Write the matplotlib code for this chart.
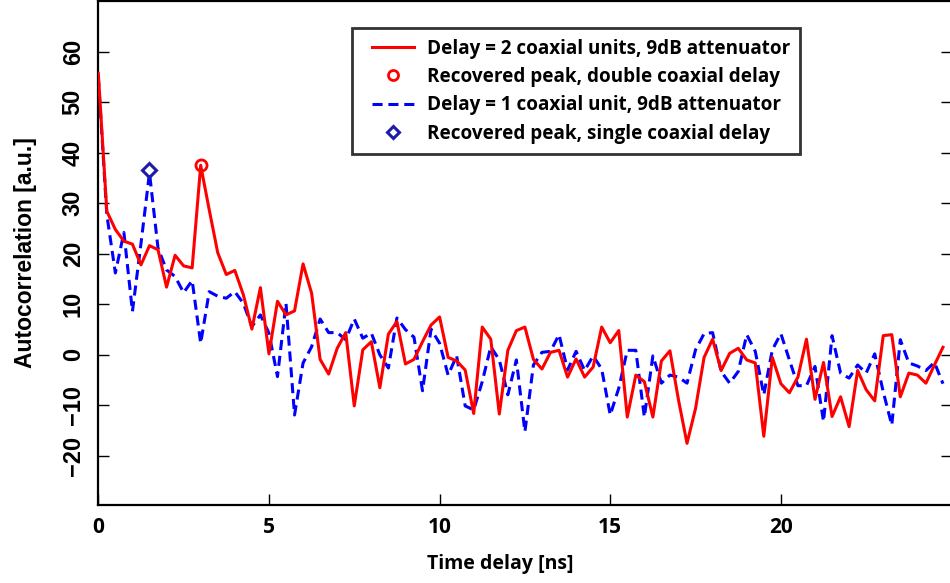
import numpy as np
import matplotlib
matplotlib.use('Agg')
from matplotlib import pyplot as plt
from matplotlib.lines import Line2D
from matplotlib.legend_handler import HandlerLine2D

# sampling step of both traces [ns]
dt = 0.25

red_vals = [55.7, 28.4, 24.8, 22.5, 21.9, 17.8, 21.6, 20.8, 13.4, 19.7,
            17.6, 17.2, 37.5, 28.7, 20.2, 15.9, 16.7, 11.9, 5.1, 13.3,
            0.2, 10.6, 7.9, 8.7, 18.0, 12.2, -0.9, -3.8, 1.3, 4.4,
            -10.1, 1.0, 2.6, -6.5, 4.1, 6.6, -1.8, -0.9, 2.6, 5.9,
            7.5, -0.5, -1.2, -3.0, -11.6, 5.5, 3.1, -11.7, 0.9, 4.8,
            5.5, -0.9, -2.8, 0.5, 0.9, -4.4, -0.8, -4.4, -2.4, 5.5,
            2.4, 4.8, -12.3, -4.0, -5.3, -12.3, -1.2, 0.8, -8.9, -17.5,
            -10.6, -0.5, 3.1, -3.1, 0.3, 1.3, -1.0, -1.6, -16.1, -0.5,
            -5.7, -7.5, -4.4, 3.1, -8.8, -1.5, -12.2, -8.3, -14.2, -3.1,
            -6.9, -9.1, 3.8, 4.0, -8.3, -3.6, -4.0, -5.6, -2.0, 1.5]

blue_vals = [55.0, 27.7, 16.2, 24.2, 8.6, 22.0, 36.0, 21.1, 16.8, 15.5,
             12.3, 14.7, 2.3, 12.5, 11.6, 11.2, 12.5, 10.2, 5.6, 7.9,
             4.3, -4.3, 10.2, -11.9, -1.6, 1.6, 7.1, 4.4, 4.4, 3.0,
             7.1, 3.3, 4.3, 0.0, -2.6, 7.3, 5.0, 3.5, -7.1, 5.1,
             2.3, -4.0, -0.2, -10.1, -10.9, -5.3, 1.6, -1.0, -7.9, -1.0,
             -15.2, -2.0, 0.5, 0.7, 4.0, -3.0, 0.7, -3.1, -0.2, -2.8,
             -11.9, -6.6, 0.9, 0.9, -12.3, -0.2, -5.6, -4.0, -4.4, -5.6,
             1.0, 4.2, 4.4, -3.3, -5.6, -3.3, 4.0, 0.7, -7.9, 1.0,
             4.2, -1.0, -6.1, -6.1, -2.3, -13.2, 3.8, -3.6, -4.6, -2.0,
             -3.6, 0.2, -7.3, -13.9, 3.0, -1.6, -2.2, -3.1, -1.5, -5.7]

red_peak = (3.0, 37.5)
blue_peak = (1.5, 36.5)

labels = ['Delay = 2 coaxial units, 9dB attenuator',
          'Recovered peak, double coaxial delay',
          'Delay = 1 coaxial unit, 9dB attenuator',
          'Recovered peak, single coaxial delay']

wide = ['Open Sans', 'DejaVu Sans']
narrow = ['Liberation Sans Narrow', 'Liberation Sans', 'DejaVu Sans']
plt.rcParams['font.family'] = wide
plt.rcParams['font.weight'] = 'bold'


def plot_data():
    t = np.arange(len(red_vals)) * dt

    fig = plt.figure(figsize=(9.5, 5.83), dpi=100)
    # right spine falls just outside the picture, as in the original
    ax = fig.add_axes([98.3 / 950, 78 / 583, 853.2 / 950, 504 / 583])

    l1, = ax.plot(t, red_vals, color='#ff0000', lw=2.2, zorder=3)
    p1, = ax.plot([red_peak[0]], [red_peak[1]], 'o', ms=8, mfc='none',
                  mec='#ff0000', mew=2, zorder=4)
    l2, = ax.plot(t, blue_vals, color='#0000ff', lw=2.2, ls=(0, (3.3, 1.9)), zorder=2)
    p2, = ax.plot([blue_peak[0]], [blue_peak[1]], 'D', ms=7, mfc='none',
                  mec='#1c1ca8', mew=2.2, zorder=4)

    ax.set_xlim(0, 25)
    ax.set_ylim(-29.7, 70)
    ax.set_xticks([0, 5, 10, 15, 20])
    ax.set_yticks(range(-20, 61, 10))
    ax.tick_params(direction='in', length=8, width=1.0, right=True, top=False)
    ax.tick_params(axis='x', labelsize=15, pad=8.5)
    ax.tick_params(axis='y', labelsize=17, pad=9.8)
    for lab in ax.get_yticklabels():
        lab.set_rotation(90)
        lab.set_va('center')
        lab.set_family(narrow)
    for s in ax.spines.values():
        s.set_linewidth(1.6)

    ax.set_xlabel('Time delay [ns]', fontsize=14, fontweight='bold')
    ax.xaxis.set_label_coords((500.5 - 98.3) / 853.2, -0.097)
    ax.set_ylabel('Autocorrelation [a.u.]', fontsize=16.5, fontweight='bold',
                  labelpad=18, family=narrow)

    leg = ax.legend([l1, p1, l2, p2], labels, loc='upper left',
                    bbox_to_anchor=(0.2974, 0.946), fontsize=13.6,
                    frameon=True, fancybox=False, edgecolor='black',
                    handlelength=2.72, handletextpad=0.69, borderpad=0.55,
                    labelspacing=0.44, borderaxespad=0, markerscale=0.9,
                    handler_map={Line2D: HandlerLine2D(xpad=0.5)})
    leg.get_frame().set_linewidth(2)
    for txt in leg.get_texts():
        txt.set_fontweight('bold')

    fig.savefig('out.png', dpi=100)


def main():
    plot_data()


main()
